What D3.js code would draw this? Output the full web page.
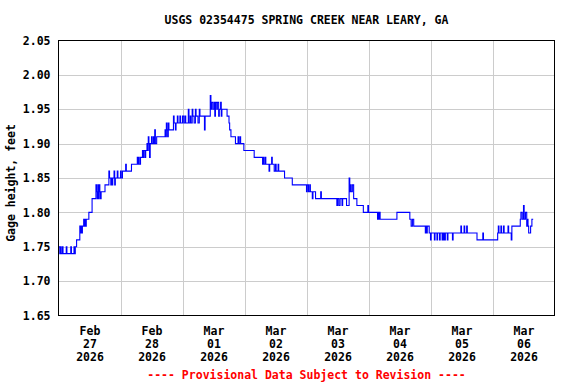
<!DOCTYPE html>
<html>
<head>
<meta charset="utf-8">
<script src="https://cdn.jsdelivr.net/npm/d3@7"></script>
<style>
  html, body { margin: 0; padding: 0; background: #ffffff; }
  svg { display: block; }
  text { font-family: "DejaVu Sans Mono", "Liberation Mono", monospace; font-weight: bold; }
</style>
</head>
<body>
<svg id="chart" width="576" height="384"></svg>
<script>
// ---- data ----
const chartTitle = "USGS 02354475 SPRING CREEK NEAR LEARY, GA";
const yAxisTitle = "Gage height, feet";
const footerText = "---- Provisional Data Subject to Revision ----";
const startTime = "2026-02-27T00:00:00Z";
const endTime = "2026-03-07T00:00:00Z";
const yTicks = [1.65, 1.70, 1.75, 1.80, 1.85, 1.90, 1.95, 2.00, 2.05];
const dayLabels = ["2026-02-27", "2026-02-28", "2026-03-01", "2026-03-02", "2026-03-03", "2026-03-04", "2026-03-05", "2026-03-06"];
// [hours since start, gage height (ft)]
const readings = [
  [0,1.75],[0.5,1.74],[0.75,1.75],[1,1.74],[1.5,1.75],[1.75,1.74],[3,1.75],[3.25,1.74],[4.75,1.75],[5,1.74],
  [6,1.75],[6.25,1.74],[6.5,1.75],[7,1.76],
  [8.25,1.78],[8.5,1.77],[8.75,1.78],[9,1.77],[9.25,1.78],[9.75,1.79],[10,1.78],[10.25,1.79],[10.5,1.78],[10.75,1.79],
  [11.75,1.80],[13,1.82],[14.5,1.84],[14.75,1.83],[15,1.82],[15.25,1.84],[15.5,1.82],[15.75,1.84],[16,1.83],[16.25,1.82],
  [16.5,1.83],[18,1.84],[19.5,1.86],[19.75,1.85],[20.25,1.84],[20.5,1.85],[20.75,1.84],[21,1.85],[21.5,1.86],[21.75,1.84],
  [22,1.85],[22.75,1.86],[23,1.85],[24,1.86],[24.25,1.85],[24.75,1.86],[26,1.87],[26.25,1.86],[28.25,1.87],
  [30.5,1.88],[30.75,1.87],[31,1.88],[31.25,1.87],[31.75,1.88],[32.5,1.89],[32.75,1.88],[33,1.89],[33.5,1.88],[33.75,1.89],
  [34.25,1.90],[34.5,1.89],[34.75,1.91],[35,1.90],[35.25,1.88],[35.5,1.90],[36,1.91],[36.25,1.90],[36.75,1.91],[37,1.90],
  [37.25,1.92],[37.5,1.90],[38,1.91],[41.25,1.92],[41.5,1.91],[41.75,1.93],[42,1.92],[42.25,1.91],[42.5,1.93],[42.75,1.92],
  [44.5,1.94],[44.75,1.93],[45.25,1.92],[45.5,1.93],[46,1.94],[46.25,1.93],[47,1.94],[47.25,1.93],[48,1.94],[48.5,1.93],
  [49,1.94],[49.25,1.93],[50.25,1.95],[50.5,1.93],[51,1.94],[51.25,1.93],[51.75,1.95],[52,1.94],[52.5,1.93],[53,1.95],
  [53.25,1.94],[54,1.93],[54.5,1.95],[54.75,1.94],[56.5,1.92],[56.75,1.94],[58.75,1.97],[59,1.95],[59.25,1.96],
  [59.75,1.95],[60.25,1.96],[60.5,1.94],[60.75,1.96],[61.25,1.95],[61.5,1.96],[62,1.94],[62.25,1.95],[62.75,1.96],[63,1.94],
  [63.25,1.95],[65.25,1.94],[66,1.93],[66.25,1.92],[66.75,1.91],[68.5,1.90],[69.5,1.91],[69.75,1.90],[70.25,1.91],[70.5,1.90],
  [71.75,1.89],[75.75,1.88],[79,1.87],[79.25,1.88],[79.5,1.87],[80,1.88],[80.25,1.87],[81.5,1.86],[81.75,1.87],[82.5,1.88],
  [82.75,1.87],[83.5,1.86],[84,1.87],[84.25,1.86],[85,1.87],[85.25,1.86],[87.5,1.85],[90.5,1.84],[96,1.83],[96.25,1.84],
  [96.75,1.83],[97.25,1.84],[97.5,1.83],[98.25,1.82],[98.5,1.83],[99.5,1.82],[101.5,1.83],[101.75,1.82],[107.75,1.81],
  [108,1.82],[108.5,1.81],[109,1.82],[109.75,1.81],[110,1.82],[111.5,1.81],[112.5,1.85],[112.75,1.83],[113,1.84],[113.25,1.83],
  [113.75,1.84],[114.25,1.82],[115.5,1.81],[118,1.80],[119.75,1.81],[120,1.80],[123.5,1.79],[123.75,1.80],[124,1.79],
  [124.25,1.80],[124.5,1.79],[131,1.80],[136,1.79],[136.5,1.78],[137,1.79],[137.5,1.78],[142,1.77],[142.25,1.78],[142.5,1.77],
  [142.75,1.78],[143.5,1.77],[144,1.76],[144.25,1.77],[145.5,1.76],[145.75,1.77],[146.5,1.76],[146.75,1.77],[147.5,1.76],
  [147.75,1.77],[148.5,1.76],[148.75,1.77],[149,1.76],[149.25,1.77],[149.5,1.76],[149.75,1.77],[150.5,1.76],[150.75,1.77],
  [152.5,1.76],[152.75,1.77],[155.75,1.78],[156,1.77],[157,1.78],[157.25,1.77],[158,1.78],[158.25,1.77],[162,1.76],
  [164.25,1.77],[164.5,1.76],[170,1.77],[170.25,1.78],[170.5,1.77],[171.25,1.78],[171.5,1.77],[172.25,1.78],[172.5,1.77],
  [174,1.78],[174.25,1.77],[175.25,1.76],[175.5,1.78],[178.75,1.79],[179,1.80],[179.5,1.79],[180,1.81],[180.25,1.79],
  [180.75,1.80],[181.25,1.78],[181.5,1.79],[181.75,1.78],[182,1.77],[182.75,1.78],[183.25,1.79],[183.75,1.79]
];

// ---- layout ----
const svg = d3.select("#chart");
const plot = { left: 58.5, right: 554.5, top: 40.5, bottom: 315.5 };
const t0 = d3.isoParse(startTime);
const t1 = d3.isoParse(endTime);
const x = d3.scaleUtc().domain([t0, t1]).range([plot.left, plot.right]);
const y = d3.scaleLinear().domain([1.65, 2.05]).range([plot.bottom, plot.top]);
const hourMs = 3600 * 1000;
const pts = readings.map(d => ({ t: new Date(t0.getTime() + d[0] * hourMs), v: d[1] }));

// gridlines
const dayBounds = d3.utcDay.range(d3.utcDay.offset(t0, 1), t1);
svg.append("g").selectAll("line").data(dayBounds).join("line")
  .attr("x1", d => Math.round(x(d)) + 0.5).attr("x2", d => Math.round(x(d)) + 0.5)
  .attr("y1", plot.top).attr("y2", plot.bottom)
  .attr("stroke", "#cccccc").attr("stroke-width", 1);
svg.append("g").selectAll("line").data(yTicks.slice(1, -1)).join("line")
  .attr("x1", plot.left).attr("x2", plot.right)
  .attr("y1", d => Math.round(y(d)) + 0.5).attr("y2", d => Math.round(y(d)) + 0.5)
  .attr("stroke", "#cccccc").attr("stroke-width", 1);

// data line
const line = d3.line().x(d => x(d.t)).y(d => y(d.v)).curve(d3.curveStepAfter);
svg.append("path").datum(pts)
  .attr("d", line).attr("fill", "none")
  .attr("stroke", "#0000ff").attr("stroke-width", 1.1);

// frame
svg.append("rect")
  .attr("x", plot.left).attr("y", plot.top)
  .attr("width", plot.right - plot.left).attr("height", plot.bottom - plot.top)
  .attr("fill", "none").attr("stroke", "#000000").attr("stroke-width", 1);

// y axis labels
const yAxis = d3.axisLeft(y).tickValues(yTicks).tickFormat(d3.format(".2f")).tickSize(0).tickPadding(8);
const gy = svg.append("g").attr("transform", `translate(${plot.left},0)`).call(yAxis);
gy.select(".domain").remove();
gy.selectAll("text").attr("font-size", 11.5).attr("font-family", "DejaVu Sans Mono").attr("font-weight", "bold").attr("fill", "#000");

// x axis labels (noon of each day)
const parseDay = d3.utcParse("%Y-%m-%d");
const noonTimes = dayLabels.map(s => d3.utcHour.offset(parseDay(s), 12));
const xAxis = d3.axisBottom(x).tickValues(noonTimes).tickSize(0).tickFormat("");
const gx = svg.append("g").attr("transform", `translate(0,${plot.bottom})`).call(xAxis);
gx.select(".domain").remove();
const fmtLines = [d3.utcFormat("%b"), d3.utcFormat("%d"), d3.utcFormat("%Y")];
gx.selectAll(".tick").each(function(d) {
  const t = d3.select(this).append("text")
    .attr("text-anchor", "middle").attr("fill", "#000")
    .attr("font-size", 11.5).attr("font-family", "DejaVu Sans Mono").attr("font-weight", "bold");
  fmtLines.forEach((f, i) => {
    t.append("tspan").attr("x", 0).attr("y", 19 + i * 13).text(f(d));
  });
});

// title
svg.append("text").attr("x", (plot.left + plot.right) / 2).attr("y", 24)
  .attr("text-anchor", "middle").attr("font-size", 11.5).attr("fill", "#000").text(chartTitle);

// y axis title
svg.append("text")
  .attr("transform", `translate(15,${(plot.top + plot.bottom) / 2 + 5}) rotate(-90)`)
  .attr("text-anchor", "middle").attr("font-size", 11.5).attr("fill", "#000").text(yAxisTitle);

// footer
svg.append("text").attr("x", (plot.left + plot.right) / 2).attr("y", 379)
  .attr("text-anchor", "middle").attr("font-size", 11.5).attr("fill", "#ff0000").text(footerText);
</script>
</body>
</html>
